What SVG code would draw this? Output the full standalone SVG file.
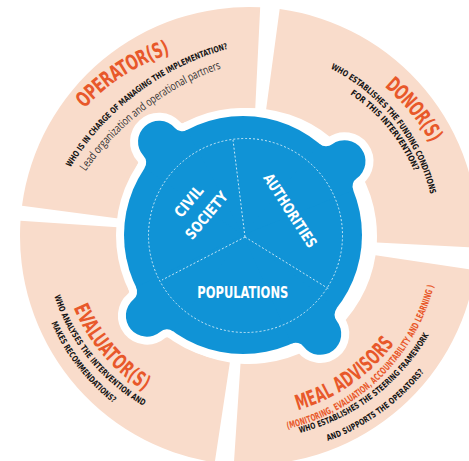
<svg xmlns="http://www.w3.org/2000/svg" xmlns:xlink="http://www.w3.org/1999/xlink" width="469" height="461" viewBox="0 0 469 461">
<style>
.sec{fill:#F9DCCB}
.t{font-family:"Liberation Sans Narrow","DejaVu Sans Condensed","DejaVu Sans",sans-serif;font-weight:bold;font-stretch:condensed;dominant-baseline:central}
.hd{fill:#E8582A;font-size:21px}
.q{fill:#161616;font-size:8.5px}
.sub{fill:#E8582A;font-size:9.5px}
.lead{font-family:"Open Sans","Liberation Sans",sans-serif;font-weight:400;fill:#333;font-size:11.5px;dominant-baseline:central}
.lbl{fill:#fff;font-size:15px;text-anchor:middle}
.dash{fill:none;stroke:#fff;stroke-width:0.9;stroke-dasharray:2 2;opacity:0.85}
</style>
<defs>
<path id="sector" d="M 168.57 -155.01 A 229 229 0 0 1 168.57 155.01 L 94.22 86.64 A 128 128 0 0 0 94.22 -86.64 Z"/>
<path id="bump" d="M 0 0 L 115.51 -28.60 A 10 10 0 0 0 125.47 -21.0 A 21 21 0 1 1 125.47 21.0 A 10 10 0 0 0 115.51 28.60 Z"/>
<g id="blob">
<circle cx="0" cy="0" r="119"/>
<use xlink:href="#bump" transform="rotate(-132)"/>
<use xlink:href="#bump" transform="rotate(-36)"/>
<use xlink:href="#bump" transform="rotate(52)"/>
<use xlink:href="#bump" transform="rotate(140)"/>
</g>
<path id="p1" d="M 79.5 103.5 A 210 210 0 0 1 168.5 47"/>
<path id="p2" d="M 68 166 A 270 270 0 0 1 227 46"/>
<path id="p3" d="M 81.5 168.5 A 285 285 0 0 1 219.5 63.5"/>
<path id="p4" d="M 389 81.3 A 213 213 0 0 1 437 139.5"/>
<path id="p5" d="M 332 66 A 193 193 0 0 1 433.3 193.3"/>
<path id="p6" d="M 351.7 91.7 A 178 178 0 0 1 416.7 170"/>
<path id="p7" d="M 79.8 304.8 A 177 177 0 0 0 148 385"/>
<path id="p8" d="M 57 295 A 194 194 0 0 0 145 403.3"/>
<path id="p9" d="M 54 321.7 A 207 207 0 0 0 115 400.7"/>
<path id="p10" d="M 295.8 403.4 A 175 175 0 0 0 388.7 339"/>
<path id="p11" d="M 286.7 425 A 193 193 0 0 0 430 285"/>
<path id="p12" d="M 299 430 A 205 205 0 0 0 427.3 331.7"/>
<path id="p13" d="M 326.7 438.3 A 218 218 0 0 0 421.7 370"/>
</defs>
<rect width="469" height="461" fill="#fff"/>

<g id="operator">
<use class="sec" xlink:href="#sector" transform="translate(249 236) rotate(230.2)"/>
<text class="t hd"><textPath xlink:href="#p1" textLength="106" lengthAdjust="spacingAndGlyphs">OPERATOR(S)</textPath></text>
<text class="t q"><textPath xlink:href="#p2" textLength="204" lengthAdjust="spacingAndGlyphs">WHO IS IN CHARGE OF MANAGING THE IMPLEMENTATION?</textPath></text>
<text class="lead"><textPath xlink:href="#p3" textLength="176" lengthAdjust="spacingAndGlyphs">Lead organization and operational partners</textPath></text>
</g>

<g id="donor">
<use class="sec" xlink:href="#sector" transform="translate(249 236) rotate(-39.7)"/>
<text class="t hd"><textPath xlink:href="#p4" textLength="75.8" lengthAdjust="spacingAndGlyphs">DONOR(S)</textPath></text>
<text class="t q"><textPath xlink:href="#p5" textLength="168" lengthAdjust="spacingAndGlyphs">WHO ESTABLISHES THE FUNDING CONDITIONS</textPath></text>
<text class="t q"><textPath xlink:href="#p6" textLength="103.3" lengthAdjust="spacingAndGlyphs">FOR THIS INTERVENTION?</textPath></text>
</g>

<g id="meal-advisors">
<use class="sec" xlink:href="#sector" transform="translate(249 236) rotate(51.2)"/>
<text class="t hd"><textPath xlink:href="#p10" textLength="115" lengthAdjust="spacingAndGlyphs">MEAL ADVISORS</textPath></text>
<text class="t sub"><textPath xlink:href="#p11" textLength="210.6" lengthAdjust="spacingAndGlyphs">(MONITORING, EVALUATION, ACCOUNTABILITY AND LEARNING )</textPath></text>
<text class="t q"><textPath xlink:href="#p12" textLength="164.2" lengthAdjust="spacingAndGlyphs">WHO ESTABLISHES THE STEERING FRAMEWORK</textPath></text>
<text class="t q"><textPath xlink:href="#p13" textLength="118.4" lengthAdjust="spacingAndGlyphs">AND SUPPORTS THE OPERATORS?</textPath></text>
</g>

<g id="evaluator">
<use class="sec" xlink:href="#sector" transform="translate(249 236) rotate(141.2)"/>
<text class="t hd"><textPath xlink:href="#p7" textLength="106.9" lengthAdjust="spacingAndGlyphs">EVALUATOR(S)</textPath></text>
<text class="t q"><textPath xlink:href="#p8" textLength="142.7" lengthAdjust="spacingAndGlyphs">WHO ANALYSES THE INTERVENTION AND</textPath></text>
<text class="t q"><textPath xlink:href="#p9" textLength="100.8" lengthAdjust="spacingAndGlyphs">MAKES RECOMMENDATIONS?</textPath></text>
</g>

<g id="center">
<use xlink:href="#blob" transform="translate(243 235)" fill="#fff" stroke="#fff" stroke-width="16" stroke-linejoin="round"/>
<use xlink:href="#blob" transform="translate(243 235)" fill="#1093D6"/>
<circle class="dash" cx="245.5" cy="235.5" r="97"/>
<path class="dash" d="M 245 237 L 233 140 M 245 237 L 162 280 M 245 237 L 329 289"/>
<g id="civil-society">
<text class="t lbl" transform="translate(189 201.5) rotate(-50)" textLength="36" lengthAdjust="spacingAndGlyphs">CIVIL</text>
<text class="t lbl" transform="translate(206.7 215.5) rotate(-50)" textLength="57" lengthAdjust="spacingAndGlyphs">SOCIETY</text>
</g>
<g id="authorities">
<text class="t lbl" transform="translate(290 210.7) rotate(57)" textLength="85" lengthAdjust="spacingAndGlyphs">AUTHORITIES</text>
</g>
<g id="populations">
<text class="t lbl" x="242.8" y="292.5" font-size="16" textLength="91" lengthAdjust="spacingAndGlyphs">POPULATIONS</text>
</g>
</g>
<g id="connectors"/>
</svg>
